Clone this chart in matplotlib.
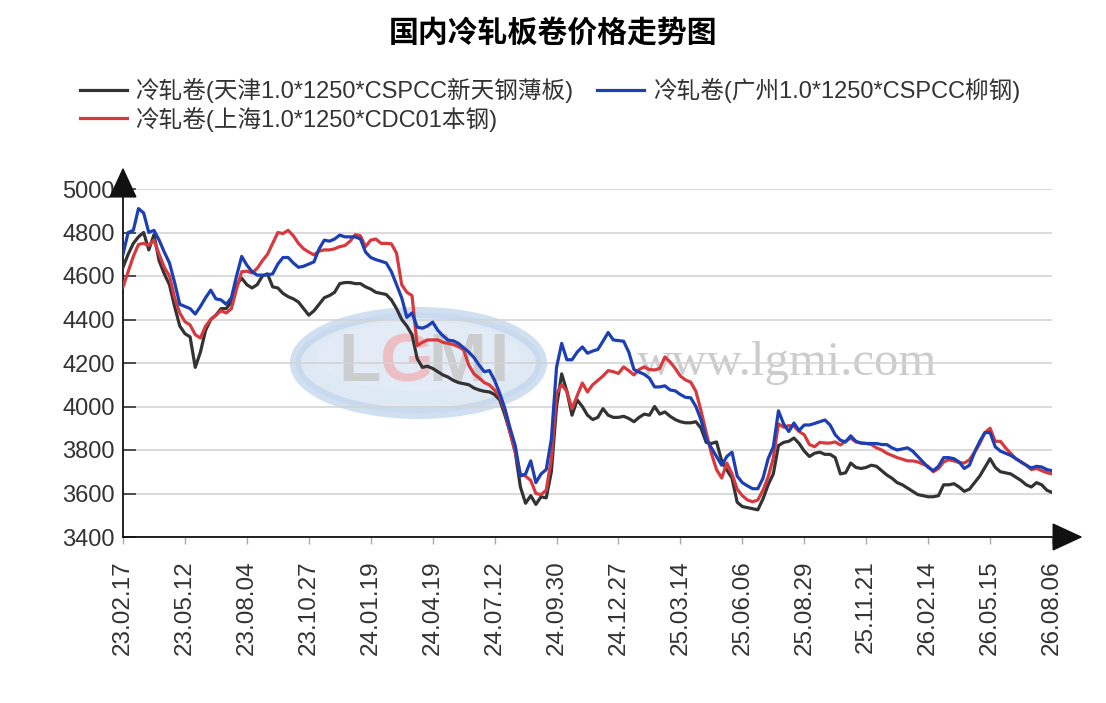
import numpy as np
import matplotlib
matplotlib.use("Agg")
import matplotlib.pyplot as plt
from matplotlib.patches import Ellipse

plt.rcParams['font.family'] = ['Liberation Sans', 'Noto Sans CJK SC', 'DejaVu Sans']

title = "国内冷轧板卷价格走势图"
names = ["冷轧卷(天津1.0*1250*CSPCC新天钢薄板)",
         "冷轧卷(上海1.0*1250*CDC01本钢)",
         "冷轧卷(广州1.0*1250*CSPCC柳钢)"]
tick_labels = ["23.02.17", "23.05.12", "23.08.04", "23.10.27", "24.01.19", "24.04.19",
               "24.07.12", "24.09.30", "24.12.27", "25.03.14", "25.06.06", "25.08.29",
               "25.11.21", "26.02.14", "26.05.15", "26.08.06"]

# weekly prices
tianjin = [
    4640, 4700, 4750, 4780, 4800, 4720, 4790, 4670, 4610, 4560,
    4460, 4370, 4335, 4320, 4180, 4250, 4350, 4400, 4420, 4450,
    4450, 4480, 4560, 4590, 4560, 4545, 4560, 4600, 4610, 4550,
    4545, 4520, 4505, 4495, 4480, 4450, 4420, 4440, 4470, 4500,
    4510, 4525, 4565, 4570, 4570, 4565, 4565, 4550, 4540, 4525,
    4520, 4515, 4490, 4450, 4400, 4370, 4330, 4220, 4180, 4185,
    4175, 4160, 4145, 4135, 4120, 4110, 4105, 4100, 4085, 4076,
    4070, 4067, 4055, 4030, 3960, 3880, 3790, 3630, 3555, 3590,
    3550, 3585, 3580, 3700, 4000, 4150, 4070, 3960, 4030, 4000,
    3960, 3940, 3950, 3990, 3960, 3950, 3950, 3955, 3945, 3930,
    3950, 3965, 3960, 4000, 3965, 3975, 3955, 3940, 3930, 3925,
    3925, 3930, 3900, 3835, 3830, 3837, 3750, 3708, 3670, 3560,
    3540, 3535, 3530, 3525, 3575, 3640, 3690, 3820, 3835, 3840,
    3855, 3830, 3795, 3770, 3785, 3790, 3780, 3780, 3765, 3690,
    3695, 3740, 3720, 3715, 3720, 3730, 3725, 3705, 3685, 3670,
    3650, 3640, 3625, 3610, 3595, 3590, 3585, 3585, 3590, 3640,
    3640, 3645, 3630, 3610, 3620, 3650, 3680, 3720, 3760, 3720,
    3700, 3695, 3690, 3675, 3660, 3640, 3630, 3650, 3640, 3615,
    3605]

shanghai = [
    4550, 4620, 4690, 4745, 4750, 4740, 4765, 4700, 4640, 4600,
    4500, 4430, 4390, 4375, 4330, 4315, 4370, 4400, 4420, 4440,
    4430, 4450, 4540, 4620, 4622, 4614, 4635, 4670, 4700, 4750,
    4800, 4795, 4810, 4785, 4750, 4725, 4710, 4697, 4715, 4720,
    4720, 4725, 4735, 4740, 4760, 4790, 4785, 4735, 4765, 4770,
    4750, 4750, 4748, 4705, 4560, 4525, 4510, 4280, 4295, 4306,
    4306, 4306, 4295, 4290, 4285, 4275, 4260, 4190, 4150, 4131,
    4110, 4099, 4075, 4045, 3980, 3880, 3790, 3690, 3680, 3660,
    3600, 3595, 3615, 3760, 4060, 4100, 4070, 3990, 4050, 4108,
    4067, 4100, 4120, 4140, 4165, 4160, 4152, 4182, 4165, 4145,
    4170, 4182, 4170, 4168, 4175, 4228, 4205, 4175, 4140, 4122,
    4112, 4070, 3980, 3880, 3785, 3710, 3671, 3740, 3690, 3620,
    3590, 3570, 3562, 3570, 3615, 3676, 3763, 3920, 3905, 3912,
    3910, 3885, 3870, 3825, 3815, 3835, 3832, 3832, 3837, 3823,
    3840, 3855, 3837, 3832, 3830, 3825, 3810, 3800, 3785, 3775,
    3765, 3758, 3750, 3750, 3745, 3735, 3725, 3700, 3715, 3745,
    3755, 3750, 3742, 3740, 3755, 3790, 3830, 3880, 3900, 3840,
    3840, 3810, 3785, 3760, 3745, 3730, 3710, 3715, 3705, 3696,
    3690]

guangzhou = [
    4700, 4800, 4810, 4910, 4890, 4800, 4810, 4765, 4710, 4660,
    4570, 4470, 4460, 4450, 4425, 4460, 4500, 4535, 4495, 4490,
    4470, 4500, 4600, 4690, 4650, 4620, 4604, 4604, 4605, 4610,
    4655, 4685, 4685, 4660, 4640, 4645, 4655, 4665, 4725, 4765,
    4760, 4770, 4788, 4780, 4780, 4780, 4770, 4710, 4685, 4675,
    4668, 4660, 4620, 4560, 4500, 4410, 4430, 4365, 4360, 4370,
    4388, 4350, 4325, 4305, 4302, 4290, 4270, 4250, 4225, 4190,
    4160, 4165, 4120, 4060, 3990, 3900, 3820, 3680, 3690, 3750,
    3650, 3690, 3710, 3850, 4180, 4290, 4215, 4215, 4250, 4274,
    4245, 4255, 4262, 4300, 4340, 4306, 4303, 4300, 4250, 4170,
    4158, 4148, 4130, 4090, 4090, 4095, 4076, 4072, 4055, 4042,
    4040, 4000, 3938, 3850, 3810, 3770, 3730, 3770, 3790, 3680,
    3650, 3635, 3622, 3622, 3670, 3760, 3815, 3980, 3920, 3885,
    3924, 3890, 3915, 3915, 3922, 3930, 3938, 3915, 3870, 3845,
    3837, 3865, 3840, 3832, 3830, 3830, 3830, 3825, 3825, 3810,
    3800, 3805, 3810, 3795, 3770, 3745, 3720, 3705, 3725, 3765,
    3765, 3760, 3745, 3715, 3730, 3790, 3840, 3880, 3880, 3815,
    3795, 3785, 3775, 3760, 3745, 3730, 3717, 3725, 3722, 3710,
    3705]

colors = ['#333333', '#d63a3f', '#1c3fb3']

fig = plt.figure(figsize=(11.06, 7.03), dpi=100)
ax = fig.add_axes([123 / 1106, 1 - 537 / 703, 929 / 1106, 348 / 703])

# watermark (logo + site)
ax.add_patch(Ellipse((0.318, 0.50), 0.265, 0.29, transform=ax.transAxes,
                     facecolor='#d3e2f1', edgecolor='#c2d6ec', lw=8, alpha=0.75, zorder=0))
ax.add_patch(Ellipse((0.318, 0.52), 0.22, 0.20, transform=ax.transAxes,
                     facecolor='#e4edf7', edgecolor='none', alpha=0.7, zorder=0.1))
for lx, letter, lc in [(0.255, "L", '#c8c8c8'), (0.305, "G", '#f0b8bc'),
                       (0.36, "M", '#c8c8c8'), (0.405, "I", '#c8c8c8')]:
    ax.text(lx, 0.50, letter, transform=ax.transAxes, ha='center', va='center',
            fontsize=50, fontweight='bold', color=lc, alpha=0.85, zorder=0.5)
ax.text(0.715, 0.50, "www.lgmi.com", transform=ax.transAxes, ha='center', va='center',
        fontsize=35, color='#cccccc', family='Liberation Serif', zorder=0.5)

x = np.arange(len(tianjin))
for series, c, name in zip([tianjin, shanghai, guangzhou], colors, names):
    ax.plot(x, series, color=c, lw=2.3, label=name, zorder=3)

ax.set_xlim(0, 180)
ax.set_ylim(3400, 5000)
ax.set_yticks(np.arange(3400, 5001, 200))
ax.set_xticks(np.arange(0, 181, 12))
ax.set_xticklabels(tick_labels, rotation=90)
ax.grid(axis='y', color='#d4d4d4', lw=1.2)
ax.set_axisbelow(True)

for s in ['top', 'right']:
    ax.spines[s].set_visible(False)
for s in ['left', 'bottom']:
    ax.spines[s].set_linewidth(1.3)
    ax.spines[s].set_color('#111111')

ax.tick_params(axis='y', direction='in', length=9, width=1.2, color='#333333',
               labelsize=17, labelcolor='#333333', pad=6)
ax.tick_params(axis='x', direction='out', length=5, width=1, color='#aaaaaa',
               labelsize=17.5, labelcolor='#333333', pad=12)

# axis arrows
ax.annotate('', xy=(1.036, 0), xytext=(0.999, 0), xycoords='axes fraction',
            arrowprops=dict(arrowstyle='-|>,head_length=1.3,head_width=0.6',
                            color='#111111', lw=1.3, mutation_scale=15), annotation_clip=False)
ax.annotate('', xy=(0, 1.07), xytext=(0, 0.998), xycoords='axes fraction',
            arrowprops=dict(arrowstyle='-|>,head_length=1.3,head_width=0.6',
                            color='#111111', lw=1.3, mutation_scale=15), annotation_clip=False)

fig.text(0.5, 1 - 33 / 703, title, ha='center', va='center', fontsize=21.5,
         fontweight='bold', family=['Noto Sans CJK SC'])

handles, labels = ax.get_legend_handles_labels()
fig.legend(handles, labels, loc='upper left', bbox_to_anchor=(80 / 1106, 1 - 78 / 703),
           ncol=2, frameon=False, fontsize=17, handlelength=2.0, handletextpad=0.35,
           columnspacing=1.0, labelspacing=0.15, borderpad=0, borderaxespad=0,
           labelcolor='#333333')

fig.savefig("out.png", dpi=100)
